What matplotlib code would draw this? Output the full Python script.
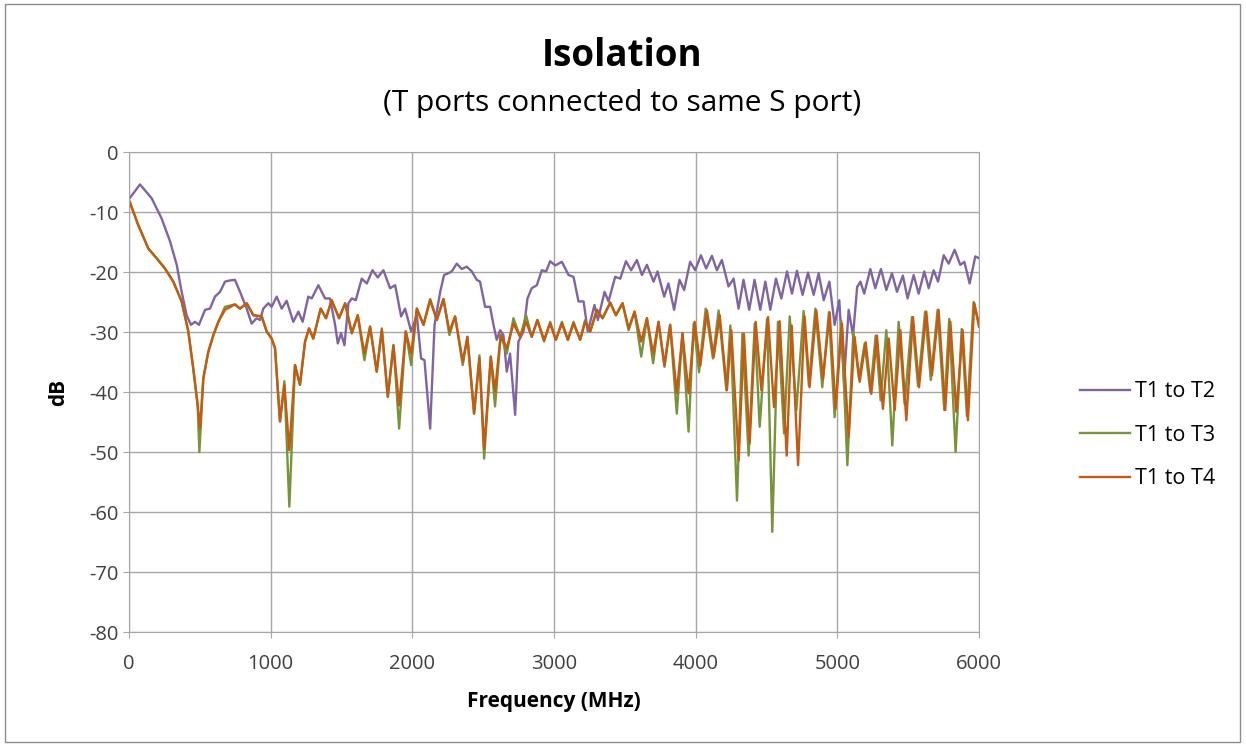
import matplotlib.pyplot as plt
from matplotlib.patches import Rectangle

# T1 to T2 (purple)
f12 = [5, 78, 160, 231, 290, 337, 372, 407, 438, 466, 494, 537, 572, 607, 643, 678, 713, 748,
       784, 831, 866, 901, 925, 948, 984, 1007, 1043, 1078, 1113, 1160, 1196, 1226, 1266, 1290,
       1337, 1384, 1419, 1455, 1474, 1497, 1521, 1549, 1573, 1601, 1643, 1679, 1719, 1756, 1796,
       1843, 1879, 1921, 1949, 1992, 2032, 2062, 2086, 2126, 2157, 2197, 2224, 2255, 2278, 2314,
       2349, 2384, 2420, 2455, 2478, 2514, 2549, 2573, 2596, 2620, 2643, 2667, 2690, 2726, 2749,
       2785, 2813, 2843, 2879, 2914, 2945, 2973, 3009, 3056, 3103, 3138, 3173, 3209, 3239, 3286,
       3310, 3357, 3385, 3432, 3468, 3508, 3545, 3585, 3621, 3656, 3703, 3731, 3778, 3808, 3848,
       3886, 3919, 3961, 3997, 4037, 4074, 4115, 4150, 4185, 4232, 4268, 4303, 4338, 4378, 4416,
       4456, 4492, 4527, 4567, 4605, 4645, 4680, 4715, 4755, 4793, 4833, 4868, 4904, 4944, 4981,
       5014, 5047, 5080, 5111, 5140, 5163, 5190, 5233, 5268, 5308, 5346, 5386, 5421, 5463, 5496,
       5539, 5574, 5614, 5645, 5680, 5711, 5751, 5786, 5828, 5868, 5897, 5934, 5974, 6000]
db12 = [-7.7, -5.4, -7.7, -11.1, -14.9, -18.8, -23.3, -27.2, -28.8, -28.3, -28.8, -26.3, -26.1,
        -24.1, -23.3, -21.6, -21.4, -21.3, -23.3, -26.1, -28.6, -27.7, -28.0, -26.1, -25.2, -25.8,
        -24.1, -26.1, -24.8, -28.3, -26.6, -28.3, -24.1, -24.4, -22.2, -24.4, -24.4, -28.8, -31.9,
        -30.2, -32.2, -25.2, -24.4, -24.7, -21.1, -21.9, -19.7, -20.9, -19.7, -22.7, -22.2, -27.4,
        -26.1, -29.9, -27.2, -34.4, -34.7, -46.1, -28.8, -23.3, -20.5, -20.2, -19.9, -18.6, -19.5,
        -19.1, -19.9, -21.3, -21.6, -25.8, -25.8, -28.8, -31.3, -29.7, -30.5, -36.6, -33.6, -43.8,
        -31.6, -29.9, -24.4, -22.7, -22.2, -19.7, -19.9, -18.2, -18.9, -18.3, -20.5, -20.8, -24.9,
        -24.9, -29.9, -25.5, -28.0, -23.3, -24.9, -20.8, -21.1, -18.2, -19.7, -18.0, -20.5, -18.8,
        -21.6, -19.9, -24.1, -21.9, -26.3, -21.3, -23.0, -18.3, -19.7, -17.2, -19.4, -17.3, -19.7,
        -18.0, -22.4, -21.1, -26.1, -21.3, -26.3, -21.3, -26.3, -21.6, -26.3, -21.1, -24.4, -19.9,
        -23.6, -19.8, -23.8, -20.1, -23.8, -20.2, -24.7, -21.6, -28.8, -24.7, -38.3, -26.3, -30.6,
        -22.5, -21.6, -23.6, -19.5, -22.7, -19.5, -23.0, -20.2, -23.3, -20.6, -24.4, -20.5, -23.6,
        -19.9, -22.7, -19.7, -21.6, -17.2, -18.6, -16.3, -18.8, -18.3, -21.9, -17.4, -17.7]

# T1 to T3 (green)
f13 = [5, 66, 137, 195, 254, 313, 372, 419, 454, 485, 497, 525, 560, 596, 631, 678, 748, 784,
       831, 878, 937, 972, 1007, 1031, 1066, 1097, 1132, 1172, 1207, 1243, 1271, 1301, 1353,
       1391, 1431, 1483, 1526, 1573, 1615, 1662, 1702, 1749, 1785, 1827, 1867, 1907, 1954, 1992,
       2032, 2079, 2126, 2173, 2220, 2262, 2302, 2356, 2389, 2436, 2474, 2507, 2554, 2584, 2624,
       2667, 2714, 2761, 2803, 2843, 2883, 2930, 2973, 3013, 3056, 3098, 3138, 3185, 3220, 3256,
       3303, 3343, 3397, 3437, 3484, 3527, 3569, 3616, 3656, 3700, 3738, 3780, 3820, 3867, 3907,
       3950, 3986, 4024, 4071, 4122, 4162, 4217, 4245, 4292, 4330, 4374, 4417, 4452, 4504, 4541,
       4581, 4624, 4664, 4711, 4762, 4799, 4845, 4894, 4941, 4981, 5028, 5071, 5113, 5153, 5193,
       5233, 5271, 5306, 5346, 5388, 5433, 5475, 5527, 5570, 5620, 5660, 5708, 5755, 5790, 5835,
       5878, 5915, 5962, 6000]
db13 = [-8.3, -12.2, -16.1, -17.7, -19.4, -21.6, -24.9, -29.9, -36.1, -42.2, -50.0, -37.7, -33.3,
        -30.5, -28.3, -25.8, -25.4, -26.1, -25.2, -27.2, -27.4, -29.9, -31.1, -32.7, -44.9, -38.2,
        -59.1, -35.5, -38.8, -31.6, -29.4, -31.1, -26.1, -27.7, -24.7, -27.7, -25.2, -30.2, -27.2,
        -34.7, -29.1, -36.6, -29.4, -40.8, -32.2, -46.1, -29.9, -35.5, -26.1, -28.8, -24.5, -28.0,
        -24.5, -30.5, -27.4, -35.5, -30.8, -43.6, -33.9, -51.1, -34.1, -42.4, -30.5, -33.6, -27.7,
        -30.8, -27.2, -30.8, -28.0, -31.6, -28.3, -31.3, -28.3, -31.3, -28.3, -31.3, -28.0, -29.9,
        -26.3, -27.7, -25.1, -27.2, -25.2, -29.7, -26.6, -34.1, -27.7, -35.2, -28.3, -35.8, -28.8,
        -43.6, -30.2, -46.6, -28.6, -36.7, -26.1, -34.4, -26.4, -39.7, -28.9, -58.1, -30.3, -50.6,
        -28.6, -45.8, -27.8, -63.3, -28.3, -46.9, -27.4, -43.0, -26.5, -38.9, -26.1, -39.2, -26.7,
        -44.2, -28.1, -52.2, -30.0, -37.8, -31.9, -40.0, -30.6, -41.4, -29.7, -48.9, -28.3, -42.0,
        -27.5, -39.0, -26.6, -38.0, -26.3, -43.0, -27.8, -50.0, -29.5, -44.0, -25.0, -28.6]

# T1 to T4 (orange)
f14 = [5, 66, 137, 195, 254, 313, 372, 419, 454, 485, 501, 525, 560, 596, 631, 678, 748, 784,
       831, 878, 937, 972, 1007, 1031, 1066, 1097, 1132, 1172, 1207, 1243, 1271, 1301, 1353,
       1391, 1431, 1483, 1526, 1573, 1615, 1662, 1702, 1749, 1785, 1827, 1867, 1907, 1954, 1992,
       2032, 2079, 2126, 2173, 2220, 2262, 2302, 2356, 2389, 2436, 2474, 2507, 2554, 2584, 2624,
       2667, 2714, 2761, 2803, 2843, 2883, 2930, 2973, 3013, 3056, 3098, 3138, 3185, 3220, 3256,
       3303, 3343, 3397, 3437, 3484, 3527, 3569, 3616, 3656, 3700, 3738, 3780, 3820, 3867, 3907,
       3950, 3993, 4033, 4080, 4127, 4170, 4221, 4252, 4304, 4341, 4381, 4424, 4464, 4511, 4553,
       4593, 4643, 4678, 4723, 4769, 4804, 4852, 4899, 4946, 4988, 5033, 5080, 5122, 5158, 5200,
       5240, 5280, 5322, 5363, 5405, 5445, 5487, 5534, 5577, 5628, 5668, 5715, 5762, 5798, 5840,
       5885, 5922, 5967, 6000]
db14 = [-8.3, -12.2, -16.1, -17.7, -19.4, -21.6, -24.9, -29.9, -36.1, -42.2, -46.1, -37.7, -33.3,
        -30.5, -28.3, -26.3, -25.4, -26.1, -25.2, -27.2, -27.4, -29.9, -31.1, -32.7, -44.9, -38.8,
        -49.7, -35.5, -38.8, -31.6, -29.4, -31.1, -26.1, -27.7, -24.7, -27.7, -25.2, -30.2, -27.2,
        -33.6, -29.1, -36.6, -29.7, -40.8, -32.2, -42.2, -29.9, -33.6, -26.1, -28.8, -24.7, -28.0,
        -24.5, -29.9, -27.4, -34.9, -30.8, -43.6, -34.4, -49.4, -34.1, -39.9, -30.5, -32.7, -28.6,
        -30.8, -28.3, -30.8, -28.0, -31.3, -28.6, -31.3, -28.6, -31.3, -28.6, -31.3, -28.3, -29.9,
        -26.3, -27.7, -25.1, -27.2, -25.2, -29.4, -26.6, -31.6, -27.7, -33.6, -28.3, -35.5, -28.8,
        -40.2, -30.2, -40.2, -28.3, -35.6, -26.4, -34.2, -27.2, -39.7, -29.7, -51.4, -30.3, -48.6,
        -28.3, -39.7, -27.5, -42.5, -28.2, -50.6, -28.9, -52.2, -27.4, -39.2, -26.4, -37.8, -26.7,
        -42.8, -28.6, -47.5, -30.8, -38.3, -31.7, -40.3, -30.6, -42.8, -31.1, -43.0, -29.7, -44.7,
        -27.5, -39.2, -26.6, -37.2, -26.3, -43.0, -28.3, -43.3, -29.7, -44.7, -25.2, -29.1]

purple = '#8064A2'
green = '#77933C'
orange = '#C55A11'
gridc = '#A6A6A6'
textc = '#404040'

plt.rcParams['font.family'] = ['Open Sans', 'DejaVu Sans']
plt.rcParams['axes.unicode_minus'] = False

fig = plt.figure(figsize=(12.46, 7.46), dpi=100)
fig.patches.append(Rectangle((0.004, 0.006), 0.991, 0.988, transform=fig.transFigure,
                             fill=False, edgecolor='#8C8C8C', linewidth=1))
ax = fig.add_axes([0.1035, 0.1528, 0.6822, 0.6434])

ax.plot(f12, db12, color=purple, lw=1.7, label='T1 to T2')
ax.plot(f13, db13, color=green, lw=1.7, label='T1 to T3')
ax.plot(f14, db14, color=orange, lw=1.7, label='T1 to T4')

ax.set_xlim(0, 6000)
ax.set_ylim(-80, 0)
ax.set_xticks(range(0, 6001, 1000))
ax.set_yticks(range(-80, 1, 10))
ax.grid(True, color=gridc, lw=1)
ax.set_axisbelow(True)
for s in ax.spines.values():
    s.set_color(gridc)
ax.tick_params(labelcolor=textc, labelsize=14.5, length=4, color=gridc)
ax.tick_params(axis='x', pad=12)

ax.set_xlabel('Frequency (MHz)', fontsize=15, fontweight='bold', labelpad=12)
ax.set_ylabel('dB', fontsize=15, fontweight='bold', labelpad=14)

fig.text(0.4995, 0.925, 'Isolation', ha='center', va='center', fontsize=26.5, fontweight='bold')
fig.text(0.4995, 0.861, '(T ports connected to same S port)', ha='center', va='center',
         fontsize=21.5)

ax.legend(loc='center left', bbox_to_anchor=(1.119, 0.41), frameon=False, fontsize=15.5,
          handlelength=2.3, labelspacing=1.05, handletextpad=0.25, borderaxespad=0,
          borderpad=0)

fig.savefig('out.png', dpi=100)
